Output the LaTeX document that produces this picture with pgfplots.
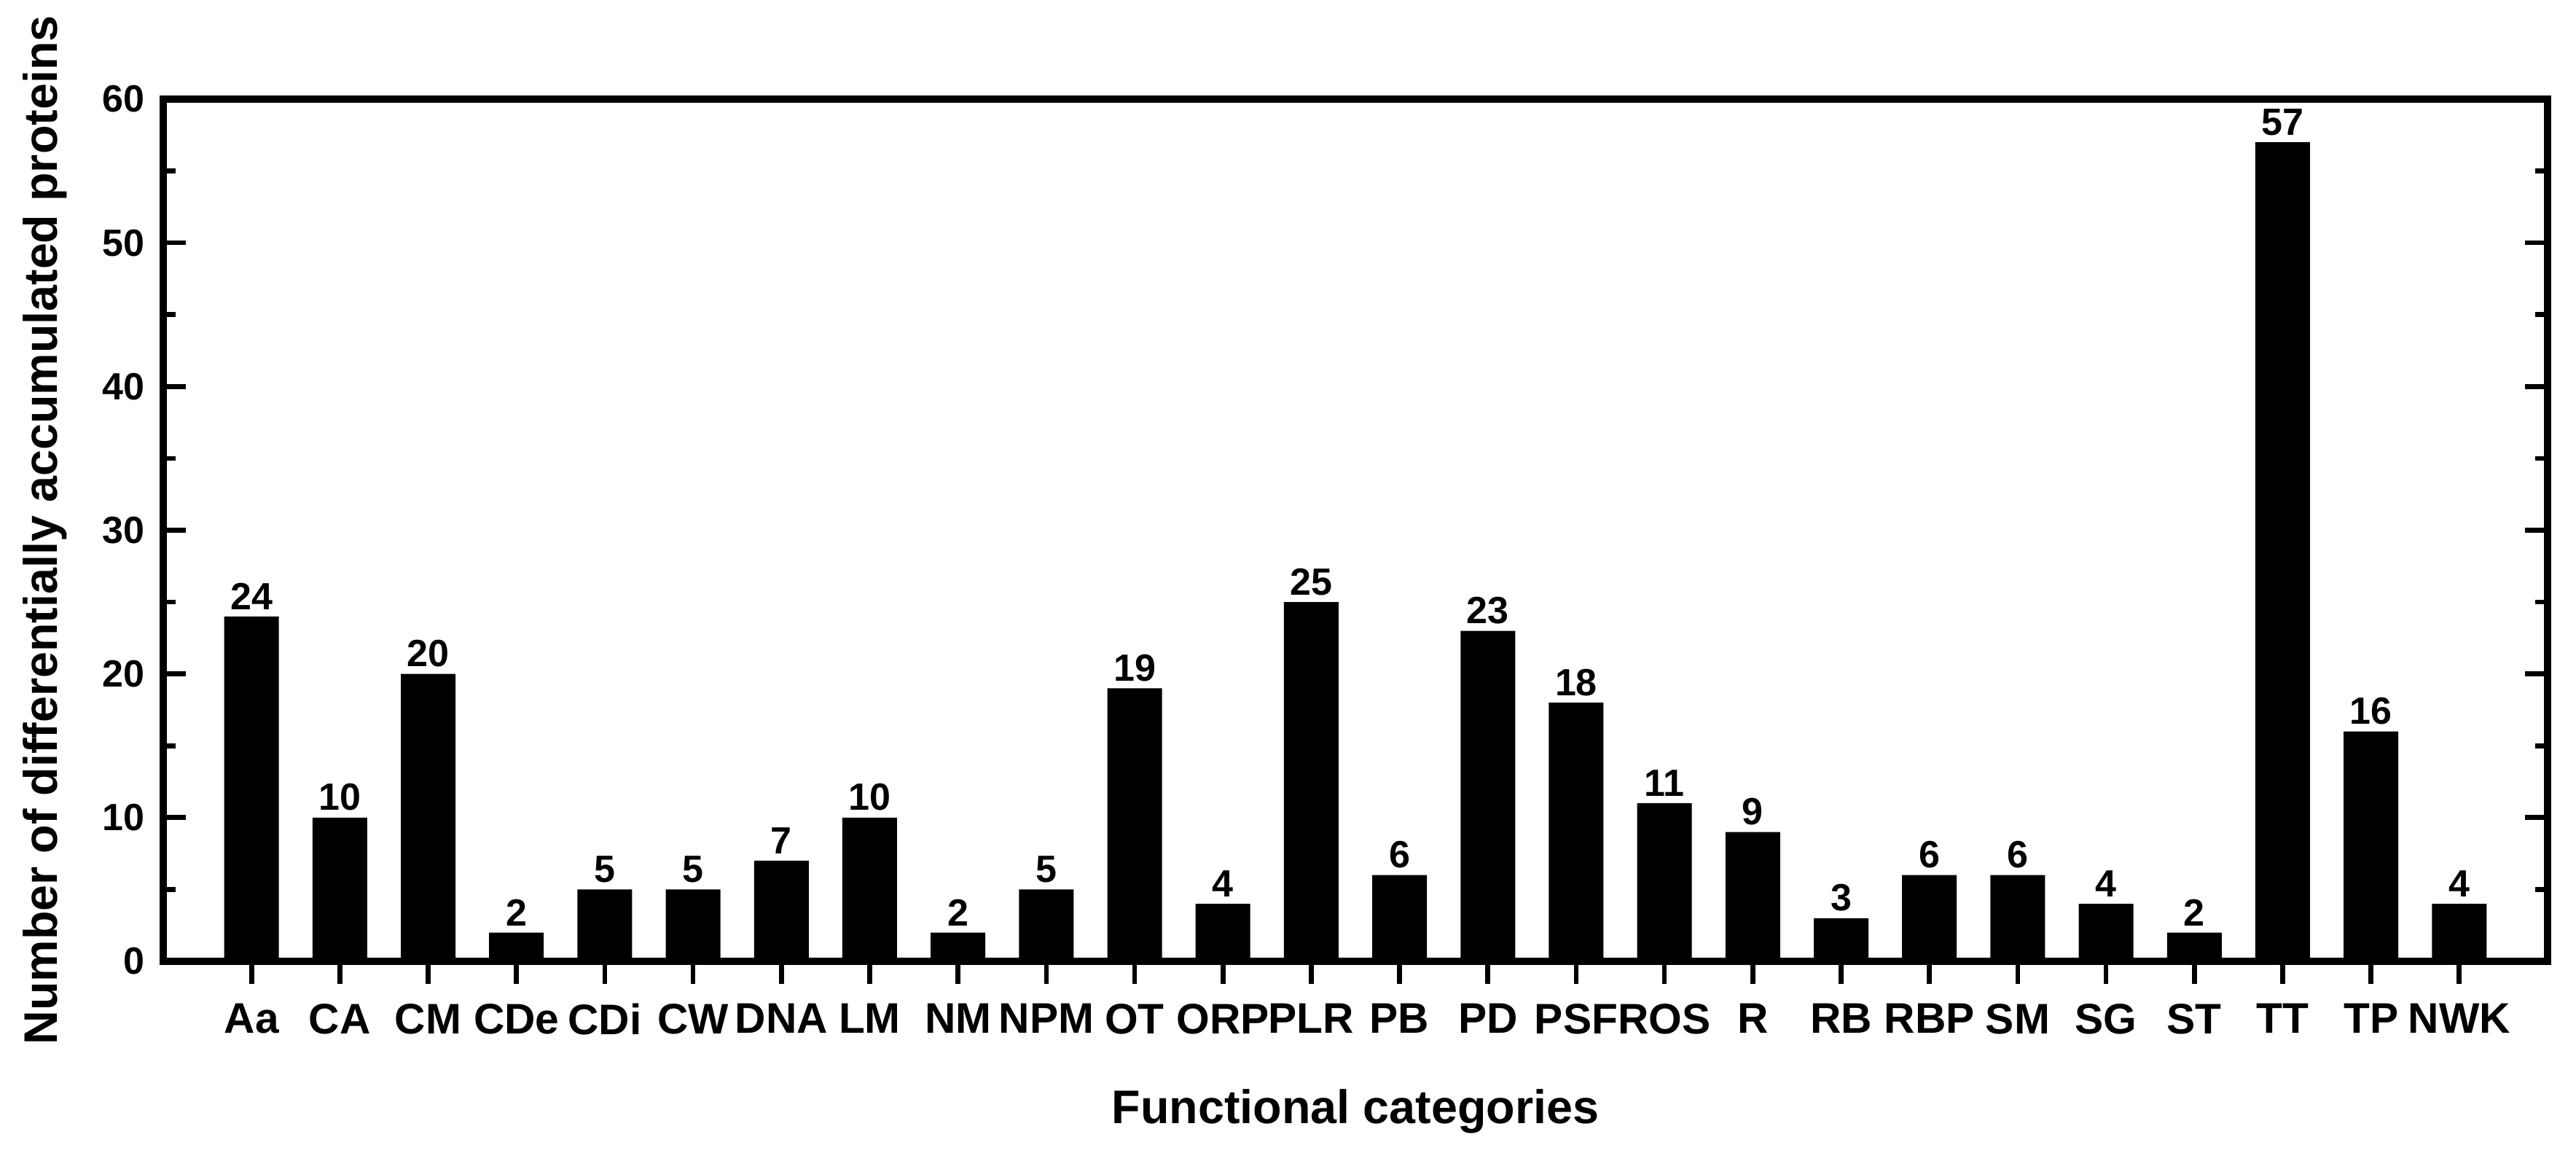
\documentclass[border=0pt]{standalone}
\usepackage{fontspec}
\setmainfont{Liberation Sans}
\usepackage{pgfplots}
\pgfplotsset{compat=1.18}
\begin{document}
\begin{tikzpicture}
\useasboundingbox (-22.4mm,-26.3mm) rectangle (331.1mm,131.9mm);
\begin{axis}[
  at={(0,0)}, anchor=south west,
  scale only axis, width=327.2mm, height=118.3mm,
  xmin=-1, xmax=26, ymin=0, ymax=60,
  /pgf/number format/assume math mode=true,
  ybar, bar width=7.5mm,
  axis line style={line width=2.6pt},
  xtick={0,...,25},
  xticklabels={Aa,CA,CM,CDe,CDi,CW,DNA,LM,NM,NPM,OT,ORP,PLR,PB,PD,PSF,ROS,R,RB,RBP,SM,SG,ST,TT,TP,NWK},
  xtick pos=bottom, xtick align=outside,
  ytick={0,10,...,60}, minor y tick num=1,
  ytick pos=both, ytick align=inside,
  major tick length=3.1mm, minor tick length=1.7mm,
  major tick style={line width=1.9pt, black},
  minor tick style={line width=1.9pt, black},
  xticklabel style={font=\bfseries\fontsize{16.7}{20}\selectfont, yshift=-1.5mm},
  yticklabel style={font=\bfseries\fontsize{14.8}{18}\selectfont, xshift=-1.3mm},
  xlabel={Functional categories},
  ylabel={Number of differentially accumulated proteins},
  xlabel style={font=\bfseries\fontsize{18.4}{22}\selectfont, at={(axis description cs:0.5,-0.1885)}, anchor=base},
  ylabel style={font=\bfseries\fontsize{18.4}{22}\selectfont, at={(axis description cs:-0.0446,0.5)}, anchor=base},
  nodes near coords,
  every node near coord/.append style={font=\bfseries\fontsize{14.8}{18}\selectfont, inner sep=2.5pt, black},
]
\addplot[fill=black, draw=none] coordinates {
(0,24) (1,10) (2,20) (3,2) (4,5) (5,5) (6,7) (7,10) (8,2) (9,5)
(10,19) (11,4) (12,25) (13,6) (14,23) (15,18) (16,11) (17,9) (18,3) (19,6)
(20,6) (21,4) (22,2) (23,57) (24,16) (25,4)
};
\end{axis}
\end{tikzpicture}
\end{document}
